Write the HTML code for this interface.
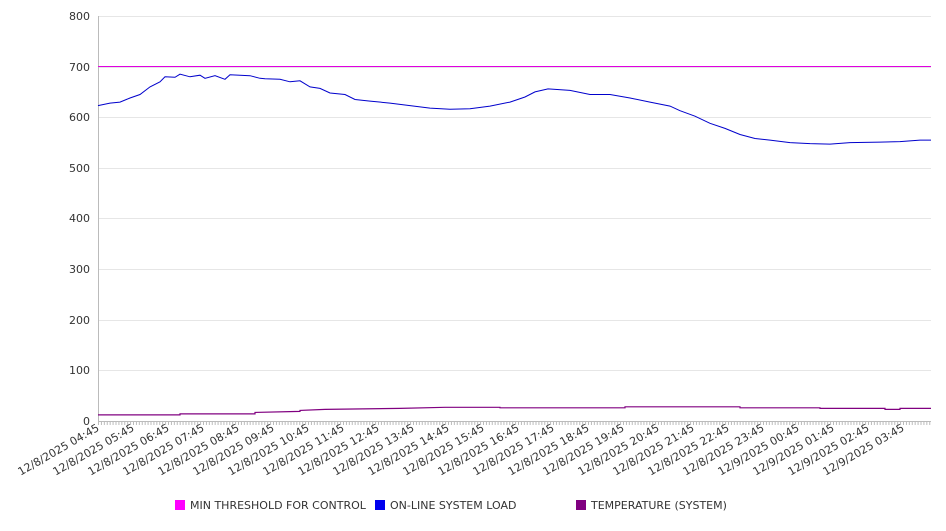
<!DOCTYPE html><html><head><style>body{margin:0;background:#fff}svg{font-family:"DejaVu Sans","Liberation Sans",sans-serif}</style></head><body>
<svg width="946" height="526" viewBox="0 0 946 526">
<g stroke="#e6e6e6" stroke-width="1">
<line x1="98" y1="16.5" x2="931" y2="16.5"/><line x1="98" y1="67.5" x2="931" y2="67.5"/><line x1="98" y1="117.5" x2="931" y2="117.5"/><line x1="98" y1="168.5" x2="931" y2="168.5"/><line x1="98" y1="218.5" x2="931" y2="218.5"/><line x1="98" y1="269.5" x2="931" y2="269.5"/><line x1="98" y1="320.5" x2="931" y2="320.5"/><line x1="98" y1="370.5" x2="931" y2="370.5"/>
</g>
<line x1="98.5" y1="16" x2="98.5" y2="421" stroke="#bbb"/>
<line x1="98" y1="421.5" x2="931" y2="421.5" stroke="#bbb"/>
<path id="t" d="" />
<g fill="#333" font-size="11" text-anchor="end">
<text x="90" y="20">800</text><text x="90" y="71">700</text><text x="90" y="121">600</text><text x="90" y="172">500</text><text x="90" y="222">400</text><text x="90" y="273">300</text><text x="90" y="324">200</text><text x="90" y="374">100</text><text x="90" y="425">0</text>
</g>
<line x1="98" y1="66.5" x2="931" y2="66.5" stroke="#e000e0" stroke-width="1"/>
<polyline fill="none" stroke="#0000cc" stroke-width="1" points="98,105.6 110,103.1 120,102.1 130,98 140,94.5 150,86.9 160,81.8 165,76.8 175,77.3 180,74.2 190,76.8 200,75.2 205,78.3 215,75.7 225,79.3 230,74.7 250,75.7 260,78.3 265,78.8 280,79.3 290,81.8 300,80.8 310,86.9 320,88.4 330,93 345,94.5 355,99.5 370,101.1 390,103.1 410,105.6 430,108.1 450,109.2 470,108.7 490,106.1 510,102.1 525,97 535,91.9 548,88.9 570,90.4 590,94.5 610,94.5 630,98 650,102.1 670,106.1 680,110.7 695,116.2 710,123.3 725,128.4 740,134.5 755,138.5 770,140.1 790,142.6 810,143.6 830,144.1 850,142.6 880,142.1 900,141.6 920,140.1 931,140.1"/>
<polyline fill="none" stroke="#800080" stroke-width="1.2" points="98,414.9 180,414.9 180,413.9 255,413.9 255,412.4 300,411.4 300,410.4 325,409.4 400,408.4 445,407.3 500,407.3 500,407.8 625,407.8 625,406.8 740,406.8 740,407.8 820,407.8 820,408.4 885,408.4 885,409.4 900,409.4 900,408.4 931,408.4"/>
<g stroke="#bbb" id="ticks"></g>
<g fill="#333" font-size="11" text-anchor="end" id="labs"></g>
<g font-size="11" fill="#333">
<rect x="175" y="500" width="10" height="10" fill="#ff00ff"/><text x="190" y="509">MIN THRESHOLD FOR CONTROL</text>
<rect x="375" y="500" width="10" height="10" fill="#0000ee"/><text x="390" y="509">ON-LINE SYSTEM LOAD</text>
<rect x="576" y="500" width="10" height="10" fill="#800080"/><text x="591" y="509">TEMPERATURE (SYSTEM)</text>
</g>
<script>
var t=document.getElementById('ticks'),l=document.getElementById('labs'),ns='http://www.w3.org/2000/svg';
for(var x=98.5;x<931;x+=35/12){var e=document.createElementNS(ns,'line');e.setAttribute('x1',x);e.setAttribute('x2',x);e.setAttribute('y1',421);e.setAttribute('y2',425);t.appendChild(e);}
for(var i=0;i<24;i++){var h=4+i,d=h>=24?9:8;h%=24;var s='12/'+d+'/2025 '+(h<10?'0':'')+h+':45';var x=100+i*35;var e=document.createElementNS(ns,'text');e.setAttribute('transform','translate('+x+',430) rotate(-30)');e.textContent=s;l.appendChild(e);}
</script>
</svg></body></html>
